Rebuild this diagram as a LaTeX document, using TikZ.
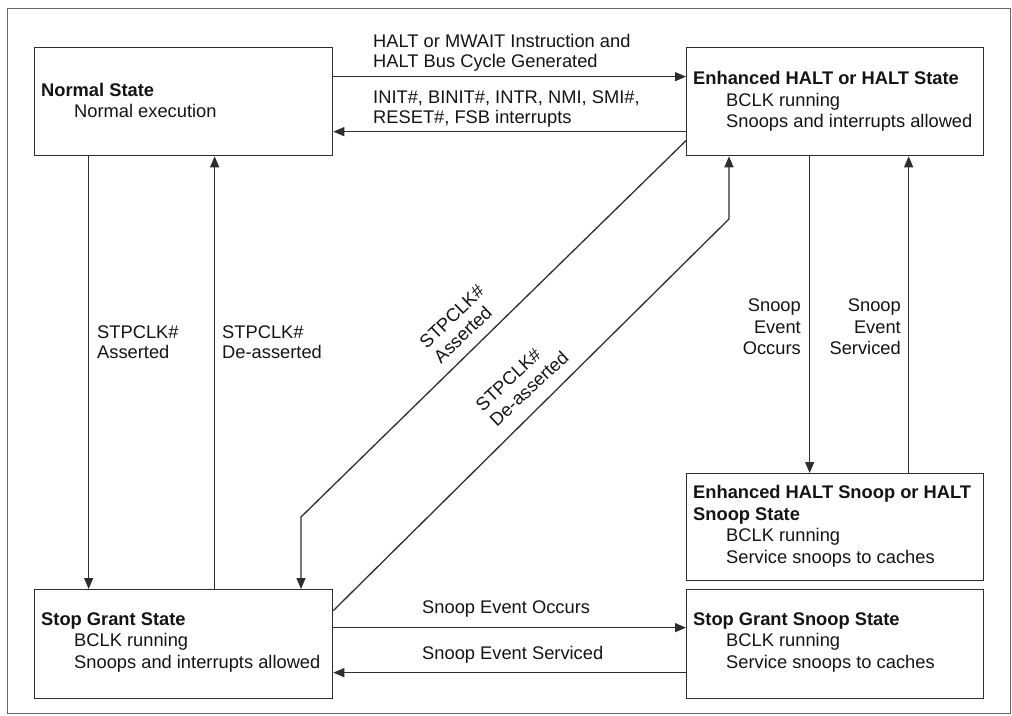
\documentclass[tikz,border=0pt]{standalone}
\usepackage{fontspec}
\setmainfont{Liberation Sans}
\usetikzlibrary{arrows.meta,calc}
\definecolor{ln}{HTML}{2e2e2e}
\definecolor{tx}{HTML}{141414}
\definecolor{frame}{HTML}{666666}
\begin{document}
\begin{tikzpicture}[x=1pt,y=-1pt,
  every node/.style={font=\fontsize{18.3}{21.5}\selectfont, text=tx, inner sep=0pt},
  state/.style={draw=ln, line width=1.3pt, minimum width=298pt, minimum height=108pt, anchor=north west},
  conn/.style={draw=ln, line width=1.3pt, -{Triangle[length=11pt,width=9pt]}},
  lbl/.style={align=left},
  tight/.style={font=\fontsize{18.3}{20.5}\selectfont}]
\useasboundingbox (0,0) rectangle (1012,715);
\draw[frame, line width=1pt] (7,8) rectangle (1010,713);

% state boxes
\node[state] (normal) at (34,47) {};
\node[state, minimum width=297pt] (ehalt) at (686,47) {};
\node[state, minimum width=297pt, minimum height=107pt] (ehs) at (686,473) {};
\node[state, minimum height=109pt] (sg) at (34,589) {};
\node[state, minimum width=297pt, minimum height=109pt] (sgs) at (686,589) {};

% state texts
\node[lbl, anchor=west] (tnormal) at ($(normal.west)+(7,-1)$) {\textbf{Normal State}\\\hspace*{33pt}Normal execution};
\node[lbl, anchor=west] (tehalt) at ($(ehalt.west)+(7,0)$) {\textbf{Enhanced HALT or HALT State}\\\hspace*{33pt}BCLK running\\\hspace*{33pt}Snoops and interrupts allowed};
\node[lbl, anchor=west] (tehs) at ($(ehs.west)+(7,-1)$) {\textbf{Enhanced HALT Snoop or HALT}\\\textbf{Snoop State}\\\hspace*{33pt}BCLK running\\\hspace*{33pt}Service snoops to caches};
\node[lbl, anchor=west] (tsg) at ($(sg.west)+(7,-2)$) {\textbf{Stop Grant State}\\\hspace*{33pt}BCLK running\\\hspace*{33pt}Snoops and interrupts allowed};
\node[lbl, anchor=west] (tsgs) at ($(sgs.west)+(7,-2)$) {\textbf{Stop Grant Snoop State}\\\hspace*{33pt}BCLK running\\\hspace*{33pt}Service snoops to caches};

% connectors
\draw[conn] ([yshift=25pt]normal.east) -- ([yshift=25pt]ehalt.west);
\draw[conn] ([yshift=-30pt]ehalt.west) -- ([yshift=-30pt]normal.east);
\draw[conn] ([xshift=-95pt]normal.south) -- ([xshift=-95pt]sg.north);
\draw[conn] ([xshift=31pt]sg.north) -- ([xshift=31pt]normal.south);
\coordinate (b1) at (301,517);
\draw[conn] ([yshift=-39pt]ehalt.west) -- (b1) -- (b1 |- sg.north);
\coordinate (b2) at (729,219);
\draw[conn] ([yshift=33.5pt]sg.east) -- (b2) -- (b2 |- ehalt.south);
\draw[conn] ([xshift=-25.5pt]ehalt.south) -- ([xshift=-25.5pt]ehs.north);
\draw[conn] ([xshift=73.5pt]ehs.north) -- ([xshift=73.5pt]ehalt.south);
\draw[conn] ([yshift=16.5pt]sg.east) -- ([yshift=16.5pt]sgs.west);
\draw[conn] ([yshift=-28.5pt]sgs.west) -- ([yshift=-28.5pt]sg.east);

% connector labels
\node[lbl, tight, anchor=west] (l1) at (373,53) {HALT or MWAIT Instruction and\\HALT Bus Cycle Generated};
\node[lbl, tight, anchor=west] (l2) at (373,109) {INIT\#, BINIT\#, INTR, NMI, SMI\#,\\RESET\#, FSB interrupts};
\node[lbl, tight, anchor=west] (l3) at (97,342) {STPCLK\#\\Asserted};
\node[lbl, tight, anchor=west] (l4) at (222,342) {STPCLK\#\\De-asserted};
\node[align=right, anchor=east] (l5) at (801,327) {Snoop\\Event\\Occurs};
\node[align=right, anchor=east] (l6) at (901,327) {Snoop\\Event\\Serviced};
\node[anchor=west] (l7) at (422,609) {Snoop Event Occurs};
\node[anchor=west] (l8) at (422,655) {Snoop Event Serviced};
\node[lbl, tight, rotate=44] (l9) at (459,324) {STPCLK\#\\Asserted};
\node[lbl, tight, rotate=43] (l10) at (522,381) {STPCLK\#\\De-asserted};
\end{tikzpicture}
\end{document}
